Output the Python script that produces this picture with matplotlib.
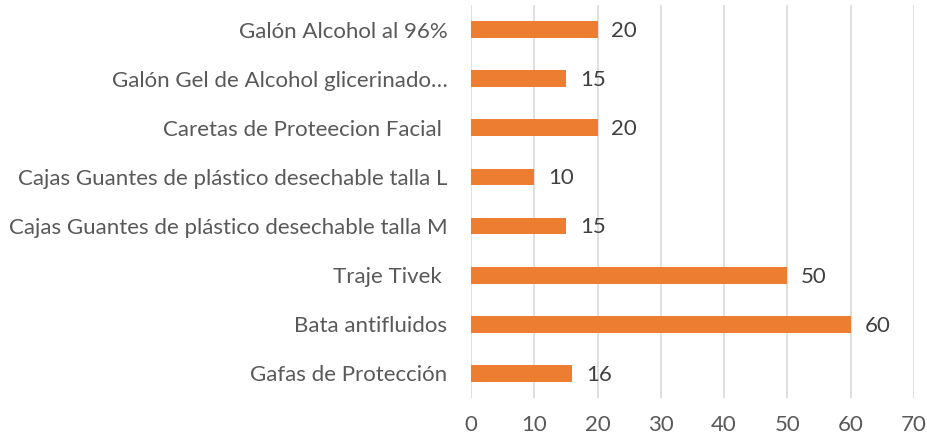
import matplotlib.pyplot as plt

categories = [
    "Gafas de Protección",
    "Bata antifluidos",
    "Traje Tivek ",
    "Cajas Guantes de plástico desechable talla M",
    "Cajas Guantes de plástico desechable talla L",
    "Caretas de Proteecion Facial ",
    "Galón Gel de Alcohol glicerinado…",
    "Galón Alcohol al 96%",
]
values = [16, 60, 50, 15, 10, 20, 15, 20]
xticks = [0, 10, 20, 30, 40, 50, 60, 70]

plt.rcParams['font.family'] = ['Lato', 'DejaVu Sans']

fig = plt.figure(figsize=(9.28, 4.43), dpi=100)
ax = fig.add_axes([0.5075, 0.1016, 0.4773, 0.8871])

bars = ax.barh(range(len(categories)), values, height=0.34, color='#ED7D31')
ax.set_ylim(-0.5, len(categories) - 0.5)
ax.set_xlim(0, 70)
ax.set_xticks(xticks)
ax.set_yticks(range(len(categories)))
ax.set_yticklabels(categories)

for b, v in zip(bars, values):
    ax.annotate(str(v), (b.get_width(), b.get_y() + b.get_height() / 2),
                xytext=(10, -1), textcoords='offset points', va='center',
                ha='left', fontsize=16, color='#404040')

ax.grid(axis='x', color='#d9d9d9', linewidth=1.2)
ax.set_axisbelow(True)
for s in ax.spines.values():
    s.set_visible(False)
ax.tick_params(length=0, labelsize=16, colors='#595959')
ax.tick_params(axis='y', pad=17)
ax.tick_params(axis='x', pad=12)

fig.savefig('out.png', dpi=100)
